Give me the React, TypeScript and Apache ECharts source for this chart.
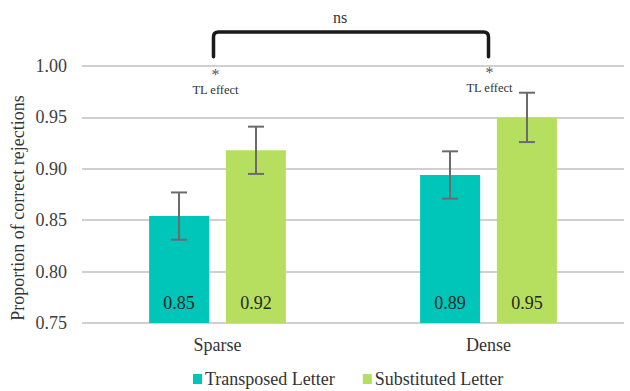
import React, { useEffect, useRef } from "react";
import * as echarts from "echarts";

const categories = ["Sparse", "Dense"];
const seriesNames = ["Transposed Letter", "Substituted Letter"];
const transposed = [0.854, 0.894];
const substituted = [0.918, 0.95];
const transposedErr = [0.023, 0.023];
const substitutedErr = [0.023, 0.024];
const yTicks = { min: 0.75, max: 1.0, interval: 0.05 };
const annotationText = { effect: "TL effect", star: "*", bracket: "ns" };
const bracketLevels = { top: 1.033, bottom: 1.009, star: 0.996, effect: 0.9765 };

const FONT = "Liberation Serif";
const TEAL = "#00C5B9";
const GREEN = "#B7DF5F";
const ERR = "#6B6B6B";

const BAR_W = 60;
const OFFSET = 38.5;

function errorSeries(name: string, vals: number[], errs: number[], sign: number) {
  return {
    type: "custom",
    name: name + " err",
    z: 10,
    silent: true,
    clip: false,
    data: vals.map((v, i) => [i, v - errs[i], v + errs[i]]),
    renderItem: (params: any, api: any) => {
      const i = api.value(0);
      const lo = api.coord([i, api.value(1)]);
      const hi = api.coord([i, api.value(2)]);
      const x = lo[0] + sign * OFFSET;
      const cap = 8;
      const style = { stroke: ERR, lineWidth: 2 };
      return {
        type: "group",
        children: [
          { type: "line", shape: { x1: x, y1: lo[1], x2: x, y2: hi[1] }, style },
          { type: "line", shape: { x1: x - cap, y1: lo[1], x2: x + cap, y2: lo[1] }, style },
          { type: "line", shape: { x1: x - cap, y1: hi[1], x2: x + cap, y2: hi[1] }, style },
        ],
      };
    },
  };
}

function txt(text: string, x: number, y: number, size: number, fill: string) {
  return {
    type: "text",
    x,
    y,
    style: {
      text,
      fontFamily: FONT,
      fontSize: size,
      fill,
      align: "center",
      verticalAlign: "middle",
    },
  };
}

export default function App() {
  const ref = useRef<HTMLDivElement>(null);
  useEffect(() => {
    if (!ref.current) return;
    const chart = echarts.init(ref.current, null, { renderer: "svg" });
    const labelCfg = {
      show: true,
      position: "insideBottom",
      distance: 11,
      fontFamily: FONT,
      fontSize: 18,
      color: "#262626",
      formatter: (p: any) => Number(p.value).toFixed(2),
    };
    const option: any = {
      animation: false,
      backgroundColor: "#ffffff",
      grid: { left: 82, right: 6, top: 66, bottom: 68 },
      legend: {
        data: seriesNames,
        left: 188,
        top: 365,
        itemWidth: 9,
        itemHeight: 10,
        itemGap: 28,
        icon: "rect",
        textStyle: { fontFamily: FONT, fontSize: 18, color: "#333", padding: [0, 0, 0, -2] },
      },
      xAxis: {
        type: "category",
        data: categories,
        axisLine: { show: false },
        axisTick: { show: false },
        axisLabel: { fontFamily: FONT, fontSize: 18, color: "#333", margin: 13 },
      },
      yAxis: {
        type: "value",
        min: yTicks.min,
        max: yTicks.max,
        interval: yTicks.interval,
        axisLine: { show: false },
        axisTick: { show: false },
        splitLine: { lineStyle: { color: "#D0D0D0", width: 2 } },
        axisLabel: {
          fontFamily: FONT,
          fontSize: 18,
          color: "#404040",
          margin: 15,
          formatter: (v: number) => v.toFixed(2),
        },
      },
      graphic: [
        {
          type: "text",
          x: 18,
          y: 208,
          rotation: Math.PI / 2,
          style: {
            text: "Proportion of correct rejections",
            fontFamily: FONT,
            fontSize: 18,
            fill: "#333",
            align: "center",
            verticalAlign: "middle",
          },
        },
      ],
      series: [
        {
          type: "bar",
          name: seriesNames[0],
          data: transposed,
          barWidth: BAR_W,
          barGap: "28%",
          itemStyle: { color: TEAL },
          label: labelCfg,
        },
        {
          type: "bar",
          name: seriesNames[1],
          data: substituted,
          barWidth: BAR_W,
          barGap: "28%",
          itemStyle: { color: GREEN },
          label: labelCfg,
        },
        errorSeries(seriesNames[0], transposed, transposedErr, -1),
        errorSeries(seriesNames[1], substituted, substitutedErr, 1),
        {
          type: "custom",
          name: "annotation",
          silent: true,
          clip: false,
          z: 20,
          data: [[0, 1]],
          renderItem: (params: any, api: any) => {
            const lTop = api.coord([0, bracketLevels.top]);
            const lBot = api.coord([0, bracketLevels.bottom]);
            const rTop = api.coord([1, bracketLevels.top]);
            const rBot = api.coord([1, bracketLevels.bottom]);
            const lStar = api.coord([0, bracketLevels.star]);
            const rStar = api.coord([1, bracketLevels.star]);
            const lEff = api.coord([0, bracketLevels.effect]);
            const rEff = api.coord([1, bracketLevels.effect]);
            const xl = lTop[0] - 4;
            const xr = rTop[0];
            const yt = lTop[1];
            const r = 5;
            const d =
              `M${xl},${lBot[1]} L${xl},${yt + r} Q${xl},${yt} ${xl + r},${yt} ` +
              `L${xr - r},${yt} Q${xr},${yt} ${xr},${yt + r} L${xr},${rBot[1]}`;
            return {
              type: "group",
              children: [
                {
                  type: "path",
                  shape: { pathData: d },
                  style: { stroke: "#1a1a1a", lineWidth: 3.5, fill: "none", lineCap: "round", lineJoin: "round" },
                },
                txt(annotationText.bracket, (xl + xr) / 2 - 11, yt - 15, 16, "#333"),
                txt(annotationText.star, lStar[0] - 2, lStar[1] + 4, 16, "#555"),
                txt(annotationText.star, rStar[0] + 1, rStar[1] + 2, 16, "#555"),
                txt(annotationText.effect, lEff[0] - 2, lEff[1], 12.5, "#333"),
                txt(annotationText.effect, rEff[0] + 1, rEff[1] - 2, 12.5, "#333"),
              ],
            };
          },
        },
      ],
    };
    chart.setOption(option);
    return () => chart.dispose();
  }, []);
  return <div ref={ref} style={{ width: 630, height: 391, position: "absolute", left: 0, top: 0 }} />;
}
